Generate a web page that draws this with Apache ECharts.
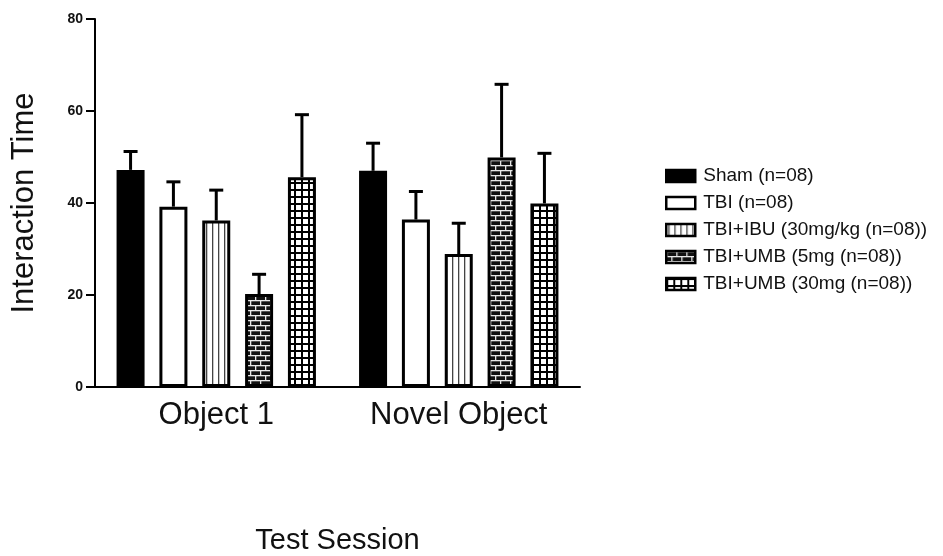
<!DOCTYPE html>
<html>
<head>
<meta charset="utf-8">
<script src="https://cdn.jsdelivr.net/npm/echarts@6/dist/echarts.min.js"></script>
<style>
  html, body { margin: 0; padding: 0; background: #fff; }
  #chart { width: 943px; height: 556px; }
</style>
</head>
<body>
<div id="chart"></div>
<script>
// Interaction time per test session, mean and upper SEM per group
const categories = ['Object 1', 'Novel Object'];
const groupNames = [
  'Sham (n=08)',
  'TBI (n=08)',
  'TBI+IBU (30mg/kg (n=08))',
  'TBI+UMB (5mg (n=08))',
  'TBI+UMB (30mg (n=08))'
];
const shamMean   = [47.2, 47.0];
const tbiMean    = [39.2, 36.4];
const ibuMean    = [36.2, 28.9];
const umb5Mean   = [20.2, 49.9];
const umb30Mean  = [45.6, 39.9];
const shamErr    = [4.0, 6.0];
const tbiErr     = [5.4, 6.1];
const ibuErr     = [6.6, 6.7];
const umb5Err    = [4.3, 15.9];
const umb30Err   = [13.6, 10.9];
const yTicks = [0, 20, 40, 60, 80];

const means = [shamMean, tbiMean, ibuMean, umb5Mean, umb30Mean];
const errs = [shamErr, tbiErr, ibuErr, umb5Err, umb30Err];

const FONT = '"Liberation Sans", Arial, Helvetica, sans-serif';
const BAR_W = 28;
const BAR_GAP = 0.53;

function makeTile(w, h, draw) {
  const c = document.createElement('canvas');
  c.width = w; c.height = h;
  const ctx = c.getContext('2d');
  draw(ctx, w, h);
  return c;
}

// vertical stripes
const stripeTile = makeTile(6, 4, (ctx, w, h) => {
  ctx.fillStyle = '#fff'; ctx.fillRect(0, 0, w, h);
  ctx.fillStyle = '#444'; ctx.fillRect(2, 0, 1.3, h);
});
// brick wall: dark bricks with light mortar
const brickTile = makeTile(10, 10, (ctx, w, h) => {
  ctx.fillStyle = '#111'; ctx.fillRect(0, 0, w, h);
  ctx.fillStyle = '#e8e8e8';
  ctx.fillRect(0, 0, w, 1.3);
  ctx.fillRect(0, 5, w, 1.3);
  ctx.fillRect(0, 0, 1.3, 5);
  ctx.fillRect(5, 5, 1.3, 5);
});
// square grid
const gridTile = makeTile(7, 7, (ctx, w, h) => {
  ctx.fillStyle = '#fff'; ctx.fillRect(0, 0, w, h);
  ctx.fillStyle = '#000';
  ctx.fillRect(0, 0, w, 2);
  ctx.fillRect(0, 0, 2, h);
});

const fills = [
  '#000',
  '#fff',
  { image: stripeTile, repeat: 'repeat' },
  { image: brickTile, repeat: 'repeat' },
  { image: gridTile, repeat: 'repeat' }
];

const barSeries = groupNames.map((name, i) => ({
  name: name,
  type: 'bar',
  data: means[i],
  barWidth: BAR_W,
  barGap: (BAR_GAP * 100) + '%',
  itemStyle: { color: fills[i], borderColor: '#000', borderWidth: 3 },
  z: 3
}));

const errData = [];
errs.forEach((arr, gi) => {
  arr.forEach((e, ci) => errData.push([ci, means[gi][ci], e, gi]));
});

const nGroups = groupNames.length;
const errSeries = {
  type: 'custom',
  name: 'err',
  data: errData,
  z: 2,
  renderItem: function (params, api) {
    const ci = api.value(0);
    const m = api.value(1);
    const e = api.value(2);
    const gi = api.value(3);
    const pitch = BAR_W * (1 + BAR_GAP);
    const dx = (gi - (nGroups - 1) / 2) * pitch;
    const base = api.coord([ci, m]);
    const top = api.coord([ci, m + e]);
    const x = base[0] + dx;
    const style = { stroke: '#000', lineWidth: 3 };
    return {
      type: 'group',
      children: [
        { type: 'line', shape: { x1: x, y1: base[1], x2: x, y2: top[1] }, style: style },
        { type: 'line', shape: { x1: x - 7, y1: top[1], x2: x + 7, y2: top[1] }, style: style }
      ]
    };
  }
};

const chart = echarts.init(document.getElementById('chart'));
chart.setOption({
  animation: false,
  backgroundColor: '#fff',
  grid: { left: 95, right: 363, top: 19, bottom: 169, containLabel: false, outerBoundsMode: 'none' },
  legend: {
    data: groupNames,
    orient: 'vertical',
    left: 660,
    top: 161,
    icon: 'rect',
    itemWidth: 29,
    itemHeight: 12,
    itemGap: 7,
    itemStyle: { borderWidth: 2.5, borderColor: '#000' },
    textStyle: { fontFamily: FONT, fontSize: 19, color: '#111', lineHeight: 20, padding: [0, 0, 0, 3] }
  },
  xAxis: {
    type: 'category',
    data: categories,
    name: 'Test Session',
    nameLocation: 'middle',
    nameGap: 139,
    nameTextStyle: { fontFamily: FONT, fontSize: 29, color: '#111' },
    axisLine: { lineStyle: { color: '#000', width: 2 } },
    axisTick: { alignWithLabel: true, length: 7, lineStyle: { color: '#000', width: 2 } },
    axisLabel: { fontFamily: FONT, fontSize: 31, color: '#111', margin: 13 }
  },
  yAxis: {
    type: 'value',
    min: yTicks[0],
    max: yTicks[yTicks.length - 1],
    interval: 20,
    name: 'Interaction Time',
    nameLocation: 'middle',
    nameGap: 55,
    nameTextStyle: { fontFamily: FONT, fontSize: 31, color: '#111' },
    splitLine: { show: false },
    axisLine: { show: true, lineStyle: { color: '#000', width: 2 } },
    axisTick: { show: true, length: 9, lineStyle: { color: '#000', width: 2 } },
    axisLabel: { fontFamily: FONT, fontSize: 14, fontWeight: 'bold', color: '#111', margin: 12 }
  },
  series: barSeries.concat([errSeries])
});
</script>
</body>
</html>
